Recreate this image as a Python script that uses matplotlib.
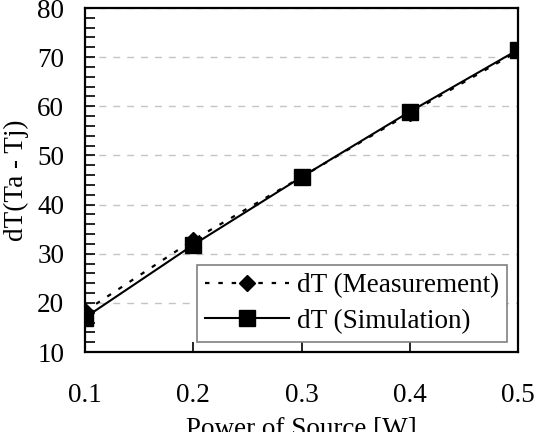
import matplotlib
matplotlib.use("Agg")
import matplotlib.pyplot as plt
from matplotlib.ticker import MultipleLocator

# values
power = [0.1, 0.2, 0.3, 0.4, 0.5]
dt_measurement = [18.3, 32.8, 45.6, 58.6, 71.2]
dt_simulation = [17.0, 31.8, 45.6, 58.9, 71.5]
x_ticks = [0.1, 0.2, 0.3, 0.4, 0.5]
y_ticks = [10, 20, 30, 40, 50, 60, 70, 80]

plt.rcParams["font.family"] = ["Liberation Serif", "DejaVu Serif"]
fs = 19.5

fig = plt.figure(figsize=(5.42, 4.32), dpi=100)
ax = fig.add_axes([85 / 542, 80 / 432, 433 / 542, 344 / 432])

ax.plot(power, dt_measurement, color="black", linestyle=(0, (2, 4)), linewidth=1.6,
        marker="D", markersize=8, label="dT (Measurement)")
ax.plot(power, dt_simulation, color="black", linestyle="-", linewidth=1.5,
        marker="s", markersize=11, label="dT (Simulation)")

ax.set_xlim(0.1, 0.5)
ax.set_ylim(10, 80)
ax.set_xticks(x_ticks)
ax.set_xticklabels([f"{v:.1f}" for v in x_ticks])
ax.set_yticks(y_ticks)
ax.yaxis.set_minor_locator(MultipleLocator(2))

ax.grid(axis="y", which="major", color="#c4c4c4", linestyle=(0, (5, 5)), linewidth=1)
ax.set_axisbelow(True)

ax.tick_params(axis="both", which="major", direction="in", length=7, width=1.2,
               labelsize=fs, colors="black")
ax.tick_params(axis="x", pad=22)
ax.tick_params(axis="y", pad=15)
ax.tick_params(axis="y", which="minor", direction="in", length=7, width=1.2)
ax.tick_params(axis="x", which="minor", bottom=False)

for s in ax.spines.values():
    s.set_linewidth(1.6)
    s.set_color("black")

ax.set_ylabel("dT(Ta - Tj)", fontsize=fs)
ax.yaxis.set_label_coords(-0.13, 0.5)
ax.set_xlabel("Power of Source [W]", fontsize=fs)
ax.xaxis.set_label_coords(0.5, -0.19)

leg = ax.legend(loc="lower right", bbox_to_anchor=(0.975, 0.029), borderaxespad=0,
                fontsize=fs, fancybox=False, framealpha=1, edgecolor="#808080",
                handlelength=3.1, handletextpad=0.3, borderpad=0.3, labelspacing=0.4)
leg.get_frame().set_linewidth(1.2)

fig.savefig("out.png", dpi=100)
